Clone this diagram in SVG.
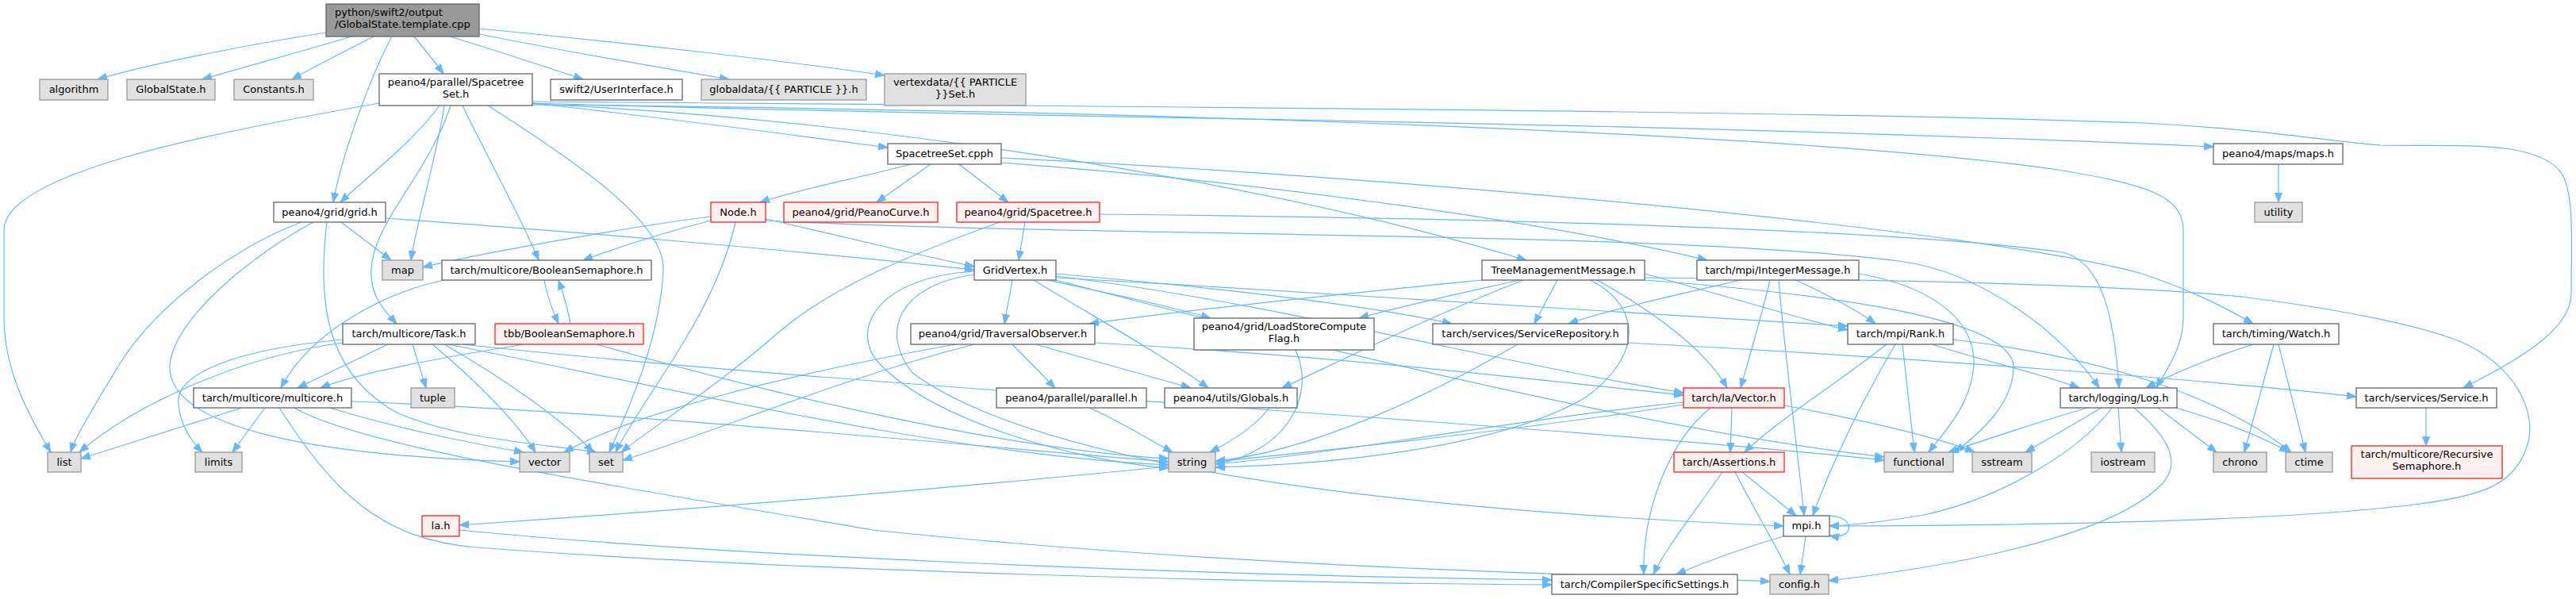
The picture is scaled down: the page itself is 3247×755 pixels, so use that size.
<svg xmlns="http://www.w3.org/2000/svg" width="3247" height="755" viewBox="0 0 3247 755">
<style>
.n{fill:#ffffff;stroke:#666666;stroke-width:1.3}
.g{fill:#e0e0e0;stroke:#999999;stroke-width:1.3}
.r{fill:#fff0f0;stroke:#ff2020;stroke-width:1.3}
.root{fill:#999999;stroke:#666666;stroke-width:1.3}
text{font-family:"DejaVu Sans","Liberation Sans",sans-serif;font-size:13px;fill:#000000;text-anchor:middle}
.e path{fill:none;stroke:#63b8ff;stroke-width:1.2;marker-end:url(#a)}
</style>
<defs>
<marker id="a" markerWidth="14" markerHeight="11" refX="12" refY="5" orient="auto" markerUnits="userSpaceOnUse"><path d="M0,0.5 L12,5 L0,9.5 z" fill="#63b8ff" stroke="#63b8ff" stroke-width="1"/></marker>
</defs>
<rect width="3247" height="755" fill="#ffffff"/>
<g class="e" id="edges">
<path d="M411,41 C320,55 190,80 123,100"/>
<path d="M443,46 C390,62 310,84 255,100"/>
<path d="M471,46 C440,62 400,82 368,100"/>
<path d="M494,46 C470,90 432,190 420,255"/>
<path d="M522,46 C535,62 548,78 559,93"/>
<path d="M567,46 C630,65 690,85 735,100"/>
<path d="M604,43 C700,62 830,85 919,100"/>
<path d="M604,36 C800,55 1000,78 1115,95"/>
<path d="M478,130 C250,170 5,220 5,290 L5,400 C5,470 40,530 64,570"/>
<path d="M554,133 C520,180 460,225 429,255"/>
<path d="M560,133 C550,200 525,280 518,328"/>
<path d="M568,133 C540,220 470,280 468,340 C466,375 488,395 500,408"/>
<path d="M583,133 C610,190 660,280 679,328"/>
<path d="M615,133 C720,200 840,280 836,340 C832,430 790,520 768,570"/>
<path d="M671,130 C850,150 1000,170 1119,186"/>
<path d="M671,131 C1100,150 1600,230 1924,328"/>
<path d="M671,128 C1500,135 2300,140 2700,155 C2850,162 2950,180 3000,183 C3100,185 3200,175 3230,220 C3245,250 3241,300 3241,370 C3241,420 3160,460 3105,489"/>
<path d="M671,130 C1300,150 2000,150 2790,185"/>
<path d="M671,132 C1500,140 2300,170 2600,215 C2700,232 2752,245 2752,290 L2752,400 C2752,440 2728,470 2718,489"/>
<path d="M1148,207 C1080,225 1000,240 958,255"/>
<path d="M1173,207 L1105,255"/>
<path d="M1209,207 L1271,255"/>
<path d="M1262,199 C1800,225 2500,290 2700,345 C2760,365 2800,385 2840,408"/>
<path d="M1262,205 C1600,230 1950,280 2152,328"/>
<path d="M1292,280 L1284,328"/>
<path d="M1260,280 C1150,320 1050,360 980,420 C900,490 820,540 783,570"/>
<path d="M1386,270 C1900,275 2400,290 2600,318 C2650,330 2665,400 2671,489"/>
<path d="M965,278 C1400,300 2100,290 2400,330 C2500,345 2600,420 2646,489"/>
<path d="M896,273 C800,285 600,320 533,337"/>
<path d="M896,278 C830,295 770,315 735,328"/>
<path d="M965,276 C1050,295 1150,320 1228,336"/>
<path d="M927,280 C900,400 810,500 776,570"/>
<path d="M430,280 L493,328"/>
<path d="M380,280 C300,310 200,380 150,460 C120,510 95,550 89,570"/>
<path d="M395,280 C320,320 220,400 214,460 C210,540 400,575 655,582"/>
<path d="M486,275 C700,290 1000,315 1228,340"/>
<path d="M412,280 C400,380 410,470 500,520 C580,555 690,560 752,570"/>
<path d="M686,353 C690,375 698,395 704,408"/>
<path d="M719,408 C716,390 710,370 704,353"/>
<path d="M560,353 C480,370 390,420 354,489"/>
<path d="M661,434 C560,450 450,470 404,489"/>
<path d="M752,434 C950,490 1250,565 1473,578"/>
<path d="M432,432 C300,450 170,510 100,570"/>
<path d="M432,428 C300,440 220,470 225,510 C228,540 245,560 255,570"/>
<path d="M489,434 L375,489"/>
<path d="M520,434 L537,489"/>
<path d="M545,434 C600,480 650,530 675,570"/>
<path d="M560,434 C640,480 710,530 748,570"/>
<path d="M565,434 C800,480 1200,575 1473,586"/>
<path d="M583,434 C1100,490 1900,530 2375,580"/>
<path d="M305,514 L102,578"/>
<path d="M334,514 L293,570"/>
<path d="M352,514 C420,620 480,680 600,690 C1000,720 1600,735 1956,737"/>
<path d="M371,514 C450,560 700,600 1100,668 C1600,720 2100,726 2231,733"/>
<path d="M416,514 C500,540 600,560 660,570"/>
<path d="M443,506 C800,520 1200,560 1473,582"/>
<path d="M2122,510 C1800,560 1200,620 579,662"/>
<path d="M579,668 C900,700 1500,725 1956,731"/>
<path d="M1276,434 L1330,489"/>
<path d="M1305,434 L1501,489"/>
<path d="M1205,434 C1000,470 800,520 711,570"/>
<path d="M1228,434 C1050,480 900,545 785,580"/>
<path d="M1380,432 C1700,450 1950,480 2122,498"/>
<path d="M1373,514 C1410,530 1450,555 1478,570"/>
<path d="M1600,514 C1580,540 1545,560 1525,570"/>
<path d="M1633,441 C1660,500 1620,570 1532,585"/>
<path d="M2052,432 C2400,450 2800,480 2970,500"/>
<path d="M1913,434 C1800,500 1650,570 1532,581"/>
<path d="M1276,353 L1266,408"/>
<path d="M1303,353 C1380,400 1470,450 1523,489"/>
<path d="M1321,353 C1400,370 1470,385 1526,401"/>
<path d="M1228,342 C1100,350 1070,420 1110,460 C1180,530 1350,580 1473,590"/>
<path d="M1228,346 C1130,360 1110,420 1150,470 C1300,580 1700,640 2248,663"/>
<path d="M1331,345 C1500,360 1700,380 1830,408"/>
<path d="M1331,348 C1600,380 1900,460 2122,495"/>
<path d="M1331,350 C1700,370 2100,400 2329,411"/>
<path d="M1331,353 C1700,450 2100,545 2375,576"/>
<path d="M1868,353 C1700,370 1500,390 1373,408"/>
<path d="M1915,353 C1840,370 1770,385 1713,401"/>
<path d="M1920,353 C1800,400 1700,450 1616,489"/>
<path d="M1963,353 L1934,408"/>
<path d="M2004,353 C2060,380 2080,440 2000,500 C1900,560 1700,585 1532,589"/>
<path d="M2013,353 C2080,390 2150,440 2177,489"/>
<path d="M2073,345 C2200,380 2280,405 2329,416"/>
<path d="M2073,350 C2400,352 2700,360 2833,375 C2950,390 3050,410 3100,430 C3170,460 3200,520 3185,563 C3170,610 3130,625 3050,635 C2900,655 2600,662 2306,663"/>
<path d="M2073,353 C2300,370 2530,400 2538,460 C2540,510 2490,550 2464,570"/>
<path d="M2194,353 C2120,370 2030,390 1977,408"/>
<path d="M2231,353 C2220,400 2205,450 2194,489"/>
<path d="M2242,353 C2250,450 2265,560 2274,650"/>
<path d="M2264,353 C2300,370 2340,390 2364,408"/>
<path d="M2343,345 C2430,360 2490,400 2488,460 C2485,510 2450,545 2431,570"/>
<path d="M2378,434 C2320,480 2240,530 2199,570"/>
<path d="M2389,434 C2350,500 2310,580 2285,650"/>
<path d="M2398,434 L2413,570"/>
<path d="M2435,434 C2500,455 2570,470 2621,489"/>
<path d="M2462,428 C2650,450 2800,500 2888,570"/>
<path d="M2183,514 L2181,570"/>
<path d="M2249,511 C2350,530 2440,550 2489,570"/>
<path d="M2156,514 C2100,560 2070,650 2072,724"/>
<path d="M2122,507 C1900,530 1700,570 1532,585"/>
<path d="M2196,595 L2264,650"/>
<path d="M2187,595 C2210,640 2240,690 2256,724"/>
<path d="M2171,595 C2140,640 2100,690 2084,724"/>
<path d="M2276,676 L2269,724"/>
<path d="M2248,676 C2200,690 2150,708 2113,724"/>
<path d="M2297,651 C2340,645 2340,682 2306,675"/>
<path d="M2631,514 C2560,535 2500,555 2456,570"/>
<path d="M2649,514 L2553,570"/>
<path d="M2662,514 C2620,570 2520,630 2420,650 C2370,658 2330,662 2306,663"/>
<path d="M2670,514 L2674,570"/>
<path d="M2690,514 C2720,540 2760,580 2720,615 C2650,680 2450,715 2305,732"/>
<path d="M2720,514 L2794,570"/>
<path d="M2735,512 C2800,530 2850,550 2885,570"/>
<path d="M2840,434 C2790,450 2740,470 2705,489"/>
<path d="M2866,434 L2829,570"/>
<path d="M2872,434 L2906,570"/>
<path d="M3058,514 L3058,562"/>
<path d="M2872,207 L2872,255"/>
</g>
<g id="n_root"><rect class="root" x="411" y="5" width="193" height="41"/><text x="422" y="20" style="text-anchor:start">python/swift2/output</text><text x="422" y="35" style="text-anchor:start">/GlobalState.template.cpp</text></g>
<g id="n_algorithm"><rect class="g" x="50" y="100" width="86" height="26"/><text x="93" y="117">algorithm</text></g>
<g id="n_globalstate"><rect class="g" x="160" y="100" width="111" height="26"/><text x="215.5" y="117">GlobalState.h</text></g>
<g id="n_constants"><rect class="g" x="295" y="100" width="100" height="26"/><text x="345" y="117">Constants.h</text></g>
<g id="n_spacetreeset_h"><rect class="n" x="478" y="93" width="193" height="40"/><text x="574.5" y="108">peano4/parallel/Spacetree</text><text x="574.5" y="123">Set.h</text></g>
<g id="n_userinterface"><rect class="n" x="694" y="100" width="166" height="26"/><text x="777" y="117">swift2/UserInterface.h</text></g>
<g id="n_globaldata"><rect class="g" x="884" y="100" width="208" height="26"/><text x="988" y="117">globaldata/{{ PARTICLE }}.h</text></g>
<g id="n_vertexdata"><rect class="g" x="1115" y="93" width="178" height="40"/><text x="1204" y="108">vertexdata/{{ PARTICLE</text><text x="1204" y="123">}}Set.h</text></g>
<g id="n_spacetreeset_cpph"><rect class="n" x="1119" y="181" width="143" height="26"/><text x="1190.5" y="198">SpacetreeSet.cpph</text></g>
<g id="n_maps"><rect class="n" x="2790" y="181" width="163" height="26"/><text x="2871.5" y="198">peano4/maps/maps.h</text></g>
<g id="n_grid"><rect class="n" x="345" y="255" width="141" height="25"/><text x="415.5" y="272">peano4/grid/grid.h</text></g>
<g id="n_node"><rect class="r" x="896" y="255" width="69" height="25"/><text x="930.5" y="272">Node.h</text></g>
<g id="n_peanocurve"><rect class="r" x="988" y="255" width="194" height="25"/><text x="1085" y="272">peano4/grid/PeanoCurve.h</text></g>
<g id="n_spacetree"><rect class="r" x="1206" y="255" width="180" height="25"/><text x="1296" y="272">peano4/grid/Spacetree.h</text></g>
<g id="n_utility"><rect class="g" x="2842" y="255" width="60" height="25"/><text x="2872" y="272">utility</text></g>
<g id="n_map"><rect class="g" x="482" y="328" width="51" height="25"/><text x="507.5" y="345">map</text></g>
<g id="n_boolsem"><rect class="n" x="557" y="328" width="264" height="25"/><text x="689" y="345">tarch/multicore/BooleanSemaphore.h</text></g>
<g id="n_gridvertex"><rect class="n" x="1228" y="328" width="103" height="25"/><text x="1279.5" y="345">GridVertex.h</text></g>
<g id="n_tmm"><rect class="n" x="1868" y="328" width="205" height="25"/><text x="1970.5" y="345">TreeManagementMessage.h</text></g>
<g id="n_intmsg"><rect class="n" x="2139" y="328" width="204" height="25"/><text x="2241" y="345">tarch/mpi/IntegerMessage.h</text></g>
<g id="n_task"><rect class="n" x="432" y="408" width="167" height="26"/><text x="515.5" y="425">tarch/multicore/Task.h</text></g>
<g id="n_tbbboolsem"><rect class="r" x="624" y="408" width="187" height="26"/><text x="717.5" y="425">tbb/BooleanSemaphore.h</text></g>
<g id="n_travobs"><rect class="n" x="1148" y="408" width="232" height="26"/><text x="1264" y="425">peano4/grid/TraversalObserver.h</text></g>
<g id="n_lscf"><rect class="n" x="1505" y="401" width="227" height="40"/><text x="1618.5" y="416">peano4/grid/LoadStoreCompute</text><text x="1618.5" y="431">Flag.h</text></g>
<g id="n_servrepo"><rect class="n" x="1806" y="408" width="246" height="26"/><text x="1929" y="425">tarch/services/ServiceRepository.h</text></g>
<g id="n_rank"><rect class="n" x="2329" y="408" width="133" height="26"/><text x="2395.5" y="425">tarch/mpi/Rank.h</text></g>
<g id="n_watch"><rect class="n" x="2790" y="408" width="158" height="26"/><text x="2869" y="425">tarch/timing/Watch.h</text></g>
<g id="n_multicore"><rect class="n" x="244" y="489" width="199" height="25"/><text x="343.5" y="506">tarch/multicore/multicore.h</text></g>
<g id="n_tuple"><rect class="g" x="518" y="489" width="55" height="25"/><text x="545.5" y="506">tuple</text></g>
<g id="n_parallel"><rect class="n" x="1256" y="489" width="189" height="25"/><text x="1350.5" y="506">peano4/parallel/parallel.h</text></g>
<g id="n_globals"><rect class="n" x="1468" y="489" width="167" height="25"/><text x="1551.5" y="506">peano4/utils/Globals.h</text></g>
<g id="n_vector_h"><rect class="r" x="2122" y="489" width="127" height="25"/><text x="2185.5" y="506">tarch/la/Vector.h</text></g>
<g id="n_log"><rect class="n" x="2597" y="489" width="147" height="25"/><text x="2670.5" y="506">tarch/logging/Log.h</text></g>
<g id="n_service"><rect class="n" x="2970" y="489" width="177" height="25"/><text x="3058.5" y="506">tarch/services/Service.h</text></g>
<g id="n_list"><rect class="g" x="60" y="570" width="42" height="25"/><text x="81" y="587">list</text></g>
<g id="n_limits"><rect class="g" x="246" y="570" width="59" height="25"/><text x="275.5" y="587">limits</text></g>
<g id="n_vector"><rect class="g" x="655" y="570" width="63" height="25"/><text x="686.5" y="587">vector</text></g>
<g id="n_set"><rect class="g" x="743" y="570" width="42" height="25"/><text x="764" y="587">set</text></g>
<g id="n_string"><rect class="g" x="1473" y="570" width="59" height="25"/><text x="1502.5" y="587">string</text></g>
<g id="n_assertions"><rect class="r" x="2110" y="570" width="139" height="25"/><text x="2179.5" y="587">tarch/Assertions.h</text></g>
<g id="n_functional"><rect class="g" x="2375" y="570" width="87" height="25"/><text x="2418.5" y="587">functional</text></g>
<g id="n_sstream"><rect class="g" x="2486" y="570" width="75" height="25"/><text x="2523.5" y="587">sstream</text></g>
<g id="n_iostream"><rect class="g" x="2636" y="570" width="80" height="25"/><text x="2676" y="587">iostream</text></g>
<g id="n_chrono"><rect class="g" x="2790" y="570" width="67" height="25"/><text x="2823.5" y="587">chrono</text></g>
<g id="n_ctime"><rect class="g" x="2881" y="570" width="59" height="25"/><text x="2910.5" y="587">ctime</text></g>
<g id="n_recsem"><rect class="r" x="2964" y="562" width="190" height="41"/><text x="3059" y="577">tarch/multicore/Recursive</text><text x="3059" y="592">Semaphore.h</text></g>
<g id="n_la"><rect class="r" x="532" y="650" width="47" height="26"/><text x="555.5" y="667">la.h</text></g>
<g id="n_mpi"><rect class="n" x="2248" y="650" width="58" height="26"/><text x="2277" y="667">mpi.h</text></g>
<g id="n_css"><rect class="n" x="1956" y="724" width="234" height="25"/><text x="2073" y="741">tarch/CompilerSpecificSettings.h</text></g>
<g id="n_config"><rect class="g" x="2231" y="724" width="74" height="25"/><text x="2268" y="741">config.h</text></g>
</svg>
